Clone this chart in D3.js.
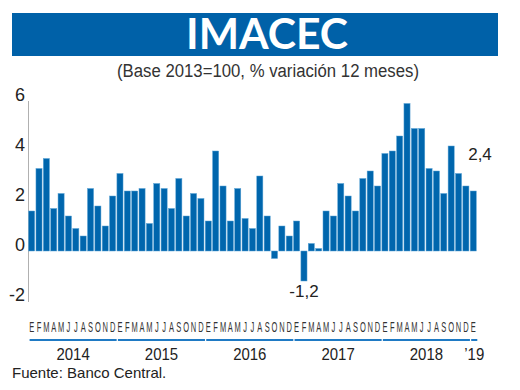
<!DOCTYPE html>
<html><head><meta charset="utf-8">
<script src="https://cdn.jsdelivr.net/npm/d3@7"></script>
<style>body{margin:0;background:#fff}svg{display:block}</style>
</head><body>
<script>
const years = ["2014","2015","2016","2017","2018","’19"];
const monthLetters = ["E","F","M","A","M","J","J","A","S","O","N","D"];
const v2014 = [1.6,3.3,3.7,1.7,2.3,1.4,0.9,0.6,2.5,1.8,1.0,2.2];
const v2015 = [3.1,2.4,2.4,2.5,1.1,2.7,2.5,1.7,2.9,1.4,2.3,2.1];
const v2016 = [1.2,4.0,2.6,1.2,2.5,1.3,0.9,3.0,1.4,-0.3,1.0,0.6];
const v2017 = [1.2,-1.2,0.3,0.1,1.6,1.4,2.7,2.2,1.6,2.9,3.2,2.6];
const v2018 = [3.9,4.0,4.6,5.9,4.9,4.9,3.3,3.2,2.3,4.2,3.1,2.6];
const v2019 = [2.4];
const yTicks = [-2,0,2,4,6];
const annotations = [{idx:37, text:"-1,2"},{idx:60, text:"2,4"}];

const series = [v2014,v2015,v2016,v2017,v2018,v2019];
const data = [];
series.forEach((arr,yi)=>arr.forEach((v,mi)=>data.push({year:yi,m:mi,letter:monthLetters[mi],v,key:yi+"-"+mi})));

const W=520,H=390;
const svg=d3.select("body").append("svg").attr("width",W).attr("height",H);
const blue="#0061a8";

// banner
svg.append("rect").attr("x",12).attr("y",13).attr("width",486).attr("height",43).attr("fill",blue);
svg.append("text").attr("x",267).attr("y",49).attr("text-anchor","middle")
  .attr("font-family","Lato, 'Open Sans', sans-serif").attr("font-weight","bold")
  .attr("font-size",42).attr("fill","#fff").attr("textLength",162).attr("lengthAdjust","spacingAndGlyphs")
  .text("IMACEC");
svg.append("text").attr("x",268).attr("y",77).attr("text-anchor","middle")
  .attr("font-family","'Liberation Sans', Arial, sans-serif")
  .attr("font-size",18).attr("fill","#333").attr("textLength",302).attr("lengthAdjust","spacingAndGlyphs")
  .text("(Base 2013=100, % variación 12 meses)");

const x=d3.scaleBand().domain(data.map(d=>d.key)).range([28.6,476.3]).paddingInner(0.17).paddingOuter(0);
const y=d3.scaleLinear().domain([-2,6]).range([301,101]);

// axis line
svg.append("line").attr("x1",28.5).attr("x2",28.5).attr("y1",y(6)).attr("y2",y(-2)+1)
  .attr("stroke","#b0b0b0").attr("stroke-width",1);

// y tick labels
svg.selectAll(".yt").data(yTicks).enter().append("text")
  .attr("x",25).attr("y",d=>y(d)).attr("text-anchor","end")
  .attr("font-family","'Liberation Sans', Arial, sans-serif").attr("font-size",18).attr("fill","#222")
  .text(d=>d);

// bars
svg.selectAll(".bar").data(data).enter().append("rect")
  .attr("x",d=>x(d.key)).attr("width",x.bandwidth())
  .attr("y",d=>y(Math.max(0,d.v))).attr("height",d=>Math.abs(y(d.v)-y(0)))
  .attr("fill","#0066ad").attr("stroke","#5aa3d6").attr("stroke-width",0.5);

// annotations
const ann = svg.selectAll(".ann").data(annotations).enter().append("text")
  .attr("font-family","'Liberation Sans', Arial, sans-serif").attr("font-size",17).attr("fill","#222")
  .text(d=>d.text);
ann.attr("x",d=>d.idx===60? x(data[d.idx].key)-2 : x(data[d.idx].key)+x.bandwidth()/2)
   .attr("y",d=>d.idx===60? 160 : 297)
   .attr("text-anchor",d=>d.idx===60?"start":"middle");

// month letters
svg.selectAll(".ml").data(data).enter().append("text")
  .attr("x",d=>x(d.key)+x.bandwidth()/2).attr("y",332).attr("text-anchor","middle")
  .attr("font-family","'Liberation Sans', Arial, sans-serif").attr("font-size",15).attr("fill","#333")
  .attr("transform",d=>{const cx=x(d.key)+x.bandwidth()/2;return `translate(${cx},0) scale(0.5,1) translate(${-cx},0)`;})
  .text(d=>d.letter);

// year lines and labels
const yearGroups = years.map((yr,yi)=>{
  const items=data.filter(d=>d.year===yi);
  return {yr, x0:x(items[0].key), x1:x(items[items.length-1].key)+x.bandwidth()};
});
svg.selectAll(".yl").data(yearGroups).enter().append("line")
  .attr("x1",d=>d.x0+1).attr("x2",d=>d.x1+1).attr("y1",340).attr("y2",340)
  .attr("stroke","#1f7ac4").attr("stroke-width",2);
svg.selectAll(".ylab").data(yearGroups).enter().append("text")
  .attr("x",d=>(d.x0+d.x1)/2+1).attr("y",360).attr("text-anchor","middle")
  .attr("font-family","'Liberation Sans', Arial, sans-serif").attr("font-size",17).attr("fill","#222")
  .attr("transform",d=>{const cx=(d.x0+d.x1)/2+1;return `translate(${cx},0) scale(0.88,1) translate(${-cx},0)`;})
  .text(d=>d.yr);

svg.append("text").attr("x",12).attr("y",378)
  .attr("font-family","'Liberation Sans', Arial, sans-serif").attr("font-size",15).attr("fill","#222")
  .text("Fuente: Banco Central.");
</script>
</body></html>
